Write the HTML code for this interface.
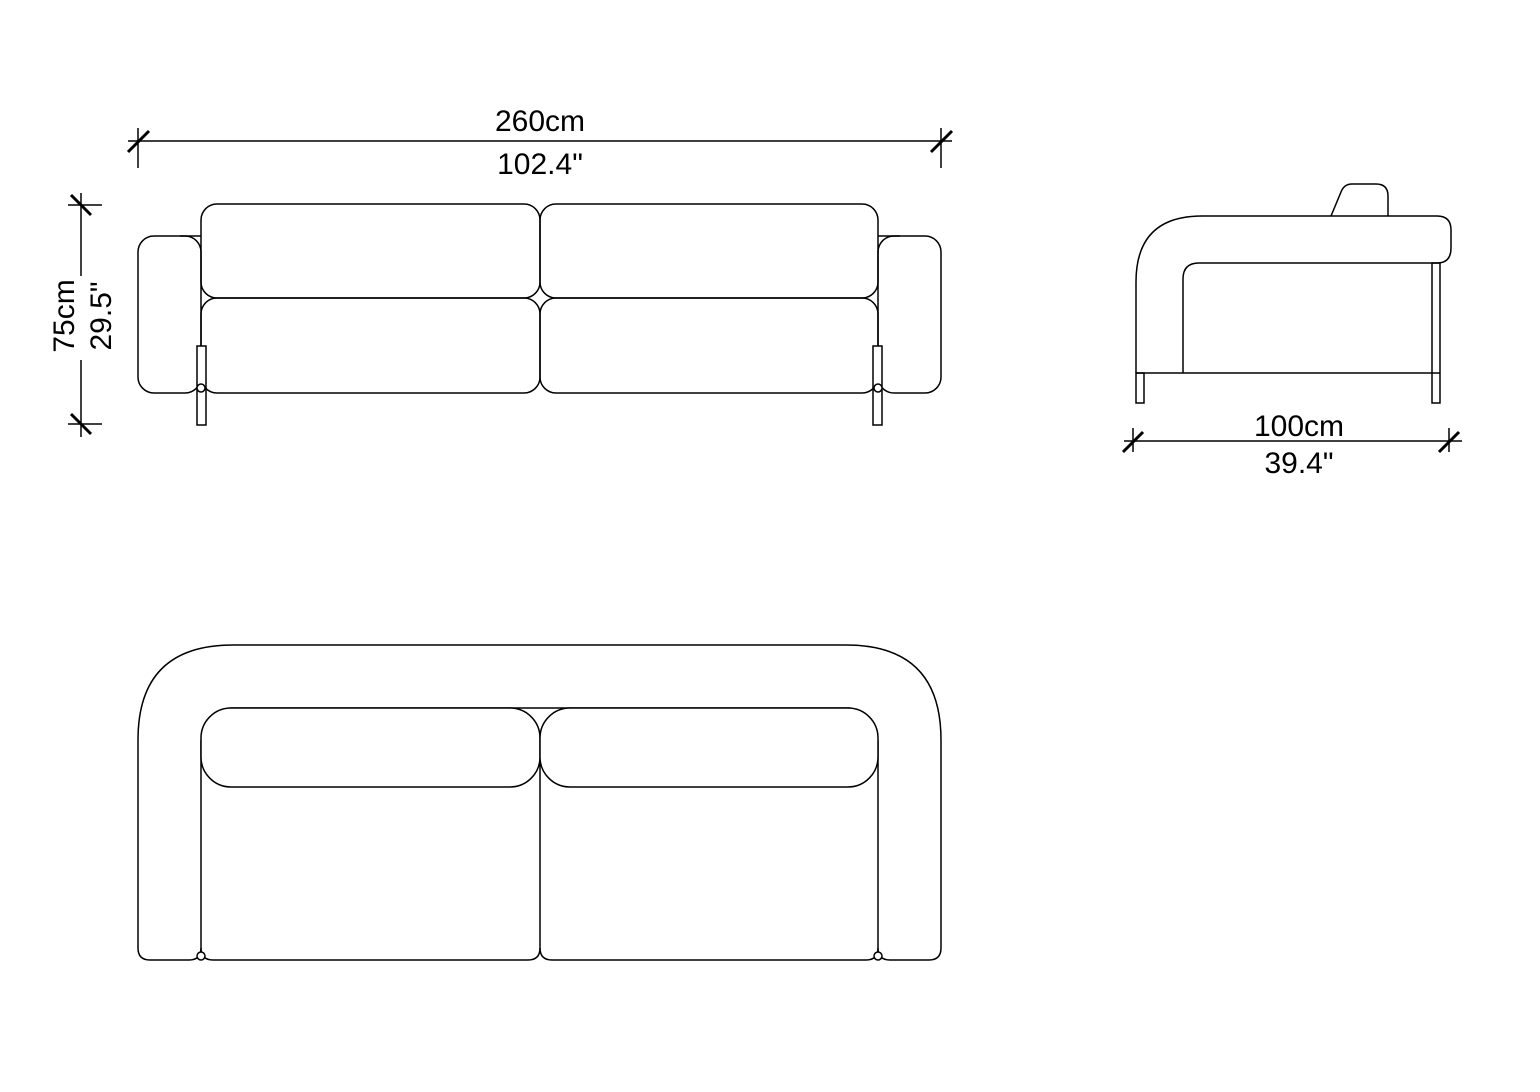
<!DOCTYPE html>
<html><head><style>
html,body{margin:0;padding:0;background:#fff;}
svg{display:block;}
text{font-family:"Liberation Sans",Arial,sans-serif;font-size:30px;fill:#000;}
</style></head><body>
<svg width="1540" height="1092" viewBox="0 0 1540 1092" fill="none" stroke="#000" stroke-width="1.5">
<!-- top dimension -->
<line x1="128" y1="141" x2="952" y2="141"/>
<line x1="138" y1="128" x2="138" y2="168"/>
<line x1="941" y1="128" x2="941" y2="168"/>
<line x1="128" y1="152" x2="149" y2="131" stroke-width="3"/>
<line x1="931" y1="152" x2="952" y2="131" stroke-width="3"/>
<text x="540" y="131" text-anchor="middle" stroke="none">260cm</text>
<text x="540" y="174" text-anchor="middle" stroke="none">102.4"</text>
<!-- vertical dimension -->
<line x1="81" y1="193" x2="81" y2="437"/>
<line x1="68" y1="205" x2="102" y2="205"/>
<line x1="68" y1="424" x2="102" y2="424"/>
<line x1="71" y1="195" x2="91" y2="215" stroke-width="3"/>
<line x1="71" y1="414" x2="91" y2="434" stroke-width="3"/>
<rect x="68" y="276" width="28" height="84" fill="#fff" stroke="none"/>
<text transform="translate(74,316) rotate(-90)" text-anchor="middle" stroke="none">75cm</text>
<text transform="translate(111,316) rotate(-90)" text-anchor="middle" stroke="none">29.5"</text>
<!-- front view -->
<line x1="180" y1="236" x2="201" y2="236"/>
<line x1="878" y1="236" x2="900" y2="236"/>
<rect x="138" y="236" width="63" height="157" rx="16"/>
<rect x="878" y="236" width="63" height="157" rx="16"/>
<rect x="201" y="204" width="339" height="94" rx="16"/>
<rect x="540" y="204" width="338" height="94" rx="16"/>
<rect x="201" y="298" width="339" height="95" rx="16"/>
<rect x="540" y="298" width="338" height="95" rx="16"/>
<rect x="197" y="346" width="9" height="79" fill="#fff"/>
<rect x="873" y="346" width="9" height="79" fill="#fff"/>
<circle cx="201" cy="388" r="4" fill="#fff"/>
<circle cx="878" cy="388" r="4" fill="#fff"/>
<!-- side view -->
<path d="M1331,216 L1341,192 Q1344,184 1352,184 L1376,184 Q1388,184 1388,196 L1388,216"/>
<path d="M1136,373 L1136,282 Q1136,216 1202,216 L1437,216 Q1451,216 1451,230 L1451,248 Q1451,263 1437,263 L1199,263 Q1183,263 1183,279 L1183,373"/>
<line x1="1136" y1="373" x2="1440" y2="373"/>
<rect x="1136" y="373" width="8" height="30"/>
<rect x="1432" y="263" width="8" height="140"/>
<!-- side dimension -->
<line x1="1124" y1="441" x2="1462" y2="441"/>
<line x1="1133" y1="428" x2="1133" y2="452"/>
<line x1="1449" y1="428" x2="1449" y2="452"/>
<line x1="1123" y1="452" x2="1143" y2="432" stroke-width="3"/>
<line x1="1439" y1="452" x2="1459" y2="432" stroke-width="3"/>
<text x="1299" y="436" text-anchor="middle" stroke="none">100cm</text>
<text x="1299" y="473" text-anchor="middle" stroke="none">39.4"</text>
<!-- top view -->
<path d="M138,948 L138,740 Q138,645 233,645 L846,645 Q941,645 941,740 L941,948 Q941,960 929,960 L890,960 Q878,960 878,948"/>
<path d="M138,948 Q138,960 150,960 L189,960 Q201,960 201,948"/>
<line x1="230" y1="708" x2="850" y2="708"/>
<path d="M201,740 L201,948 Q201,960 213,960 L528,960 Q540,960 540,948 L540,740"/>
<path d="M540,948 Q540,960 552,960 L866,960 Q878,960 878,948 L878,740"/>
<rect x="201" y="708" width="339" height="79" rx="30" fill="#fff"/>
<rect x="540" y="708" width="338" height="79" rx="30" fill="#fff"/>
<circle cx="201" cy="956" r="4" fill="#fff"/>
<circle cx="878" cy="956" r="4" fill="#fff"/>
</svg>
</body></html>
